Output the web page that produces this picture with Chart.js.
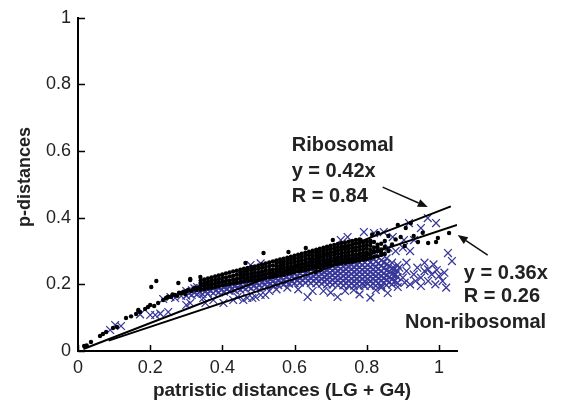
<!DOCTYPE html>
<html>
<head>
<meta charset="utf-8">
<script src="https://cdn.jsdelivr.net/npm/chart.js@4.4.1/dist/chart.umd.min.js"></script>
<style>
html,body{margin:0;padding:0;background:#fff;}
#wrap{width:563px;height:403px;position:relative;}
</style>
</head>
<body>
<div id="wrap"><canvas id="chart"></canvas></div>
<script>
// --- regression lines ---
const riboFit=[[0.015,0.006],[1.033,0.434]];
const nonRiboFit=[[0.085,0.031],[1.05,0.378]];

// --- ribosomal points: scattered ones ---
const riboScatter=[
  [0.017,0.015],[0.024,0.017],[0.036,0.027],[0.061,0.045],[0.069,0.051],[0.078,0.057],[0.097,0.069],[0.108,0.072],
  [0.133,0.099],[0.147,0.104],[0.161,0.111],[0.167,0.123],[0.172,0.117],[0.186,0.126],[0.194,0.132],[0.2,0.138],
  [0.203,0.192],[0.217,0.21],[0.211,0.135],[0.222,0.144],[0.236,0.153],[0.244,0.159],[0.25,0.163],[0.258,0.162],
  [0.262,0.17],[0.269,0.168],[0.275,0.166],[0.278,0.204],[0.28,0.175],[0.286,0.174],[0.292,0.178],[0.297,0.171],
  [0.3,0.18],[0.305,0.183],[0.311,0.213],[0.314,0.18],[0.319,0.186],[0.325,0.19],[0.328,0.183],[0.333,0.189],
  [0.311,0.216],[0.339,0.222],[0.464,0.264],[0.514,0.294],[0.583,0.297],[0.631,0.309],[0.658,0.237],[0.672,0.243],
  [0.706,0.333],[0.783,0.333],[0.815,0.35],[0.831,0.354],[0.81,0.325],[0.82,0.3],[0.83,0.31],[0.84,0.295],
  [0.85,0.33],[0.86,0.345],[0.86,0.3],[0.87,0.32],[0.88,0.335],[0.886,0.378],[0.894,0.342],[0.905,0.315],
  [0.908,0.369],[0.922,0.384],[0.93,0.345],[0.942,0.327],[0.955,0.355],[0.97,0.324],[0.992,0.327],[0.997,0.339],
  [1.028,0.354]
];

// --- ribosomal points: the dense band, one column per x ---
const riboBand=[
  [0.34,[.184,.194,.203,.212]],[0.35,[.186,.196,.205,.215]],[0.36,[.188,.198,.208,.218]],
  [0.37,[.190,.200,.211,.221]],[0.38,[.192,.202,.213,.224]],[0.39,[.194,.205,.216,.227]],
  [0.40,[.197,.208,.219,.230]],[0.41,[.199,.210,.221,.233]],[0.42,[.201,.212,.224,.236]],
  [0.43,[.203,.214,.226,.239]],[0.44,[.205,.216,.229,.241]],[0.45,[.207,.217,.227,.236,.244]],
  [0.46,[.209,.219,.229,.238,.247]],[0.47,[.210,.220,.231,.241,.249]],[0.48,[.212,.222,.233,.243,.252]],
  [0.49,[.213,.224,.235,.245,.254]],[0.50,[.215,.226,.236,.247,.257]],[0.51,[.217,.228,.239,.250,.260]],
  [0.52,[.219,.230,.241,.252,.263]],[0.53,[.221,.232,.243,.255,.266]],[0.54,[.223,.234,.245,.257,.269]],
  [0.55,[.225,.235,.245,.254,.264,.272]],[0.56,[.227,.237,.247,.256,.266,.275]],[0.57,[.229,.239,.249,.259,.268,.277]],
  [0.58,[.232,.241,.251,.261,.271,.280]],[0.59,[.234,.244,.254,.264,.274,.283]],[0.60,[.237,.247,.257,.267,.277,.286]],
  [0.61,[.239,.249,.259,.269,.279,.289]],[0.62,[.241,.251,.261,.272,.282,.292]],[0.63,[.243,.253,.264,.274,.285,.295]],
  [0.64,[.245,.256,.266,.277,.288,.298]],[0.65,[.248,.257,.267,.276,.285,.294,.301]],[0.66,[.250,.259,.269,.278,.287,.296,.304]],
  [0.67,[.252,.261,.271,.280,.289,.298,.307]],[0.68,[.254,.263,.273,.282,.292,.301,.310]],[0.69,[.257,.266,.275,.285,.294,.304,.313]],
  [0.70,[.259,.268,.277,.287,.296,.306,.316]],[0.71,[.260,.270,.279,.289,.298,.308,.318]],[0.72,[.262,.271,.281,.291,.301,.311,.321]],
  [0.73,[.263,.273,.283,.293,.303,.313,.324]],[0.74,[.265,.275,.285,.295,.305,.315,.326]],[0.75,[.266,.276,.287,.297,.307,.317,.328]],
  [0.76,[.268,.278,.288,.299,.309,.320,.330]],[0.77,[.270,.280,.290,.301,.311,.322,.333]],[0.78,[.272,.282,.292,.303,.313,.324,.335]],
  [0.79,[.274,.284,.294,.305,.315,.326]],[0.80,[.276,.286,.296,.307,.318,.330]],[0.81,[.279,.291,.303,.316,.331]],
  [0.82,[.282,.296,.311,.327]],[0.83,[.284,.300,.319]],[0.84,[.288,.305,.322]],[0.85,[.291,.312]]
];

// --- non-ribosomal points: scattered ones ---
const nonRiboScatter=[
  [0.089,0.063],[0.103,0.078],[0.119,0.075],[0.172,0.11],[0.2,0.108],[0.214,0.108],[0.228,0.112],[0.25,0.117],
  [0.236,0.156],[0.256,0.162],[0.269,0.159],[0.286,0.165],[0.3,0.138],[0.311,0.144],[0.347,0.159],[0.353,0.144],
  [0.375,0.153],[0.403,0.144],[0.43,0.153],[0.442,0.162],[0.458,0.153],[0.469,0.159],[0.483,0.159],[0.492,0.162],
  [0.506,0.168],[0.519,0.168],[0.53,0.18],[0.478,0.258],[0.506,0.263],
  [0.55,0.185],[0.58,0.19],[0.61,0.185],[0.636,0.162],[0.65,0.18],[0.68,0.18],[0.7,0.175],[0.719,0.162],
  [0.74,0.18],[0.764,0.183],[0.78,0.17],[0.792,0.198],[0.81,0.16],[0.825,0.183],[0.84,0.19],[0.858,0.174],[0.886,0.192],
  [0.728,0.333],[0.747,0.342],[0.792,0.357],[0.82,0.354],[0.847,0.357],[0.872,0.342],[0.86,0.31],[0.88,0.3],
  [0.9,0.31],[0.903,0.333],[0.917,0.384],[0.92,0.3],[0.931,0.333],[0.95,0.369],[0.969,0.399],[0.992,0.384],
  [1.025,0.294],[1.036,0.27],
  [0.88,0.23],[0.89,0.25],[0.9,0.22],[0.905,0.205],[0.91,0.24],[0.91,0.265],[0.92,0.2],[0.93,0.23],[0.935,0.21],
  [0.94,0.25],[0.95,0.22],[0.95,0.195],[0.96,0.24],[0.96,0.265],[0.97,0.21],[0.97,0.245],[0.98,0.23],[0.985,0.26],
  [0.99,0.2],[0.994,0.243],[1.0,0.225],[1.01,0.21],[1.015,0.235],[1.02,0.19]
];

// --- non-ribosomal points: the dense band under the black one ---
const nonRiboBand=[
  [0.300,[.166,.180]],[0.315,[.168,.182]],[0.330,[.170,.184,.192]],[0.345,[.171,.185,.196]],
  [0.360,[.173,.186,.198]],[0.375,[.174,.188,.200]],[0.390,[.176,.190,.203]],[0.405,[.178,.192,.205]],
  [0.420,[.180,.194,.208]],[0.435,[.182,.196,.210]],[0.450,[.184,.198,.212]],[0.465,[.186,.200,.214]],
  [0.480,[.188,.202,.216,.222]],[0.495,[.190,.204,.218,.226]],[0.510,[.192,.206,.220,.229]],[0.525,[.194,.208,.222,.231]],
  [0.540,[.196,.210,.224,.233]],[0.555,[.198,.212,.226,.236]],[0.570,[.200,.214,.228,.239]],[0.585,[.202,.216,.230,.242]],
  [0.600,[.204,.218,.232,.246]],[0.615,[.205,.219,.233,.247,.250]],[0.630,[.205,.219,.233,.247,.253]],
  [0.645,[.204,.218,.232,.246,.256]],[0.660,[.203,.217,.231,.245,.259]],[0.675,[.202,.216,.230,.244,.258,.262]],
  [0.690,[.200,.214,.228,.242,.256,.266]],[0.705,[.199,.213,.227,.241,.255,.268]],[0.720,[.198,.212,.226,.240,.254,.270]],
  [0.735,[.197,.211,.225,.239,.253,.267,.273]],[0.750,[.196,.210,.224,.238,.252,.266,.276]],
  [0.765,[.196,.210,.224,.238,.252,.266,.278]],[0.780,[.195,.209,.223,.237,.251,.265,.280]],
  [0.795,[.195,.209,.223,.237,.251,.265,.282]],[0.810,[.195,.209,.223,.237,.251,.265,.284]],
  [0.825,[.196,.210,.224,.238,.252,.268,.288]],[0.840,[.197,.211,.225,.239,.255,.272]],
  [0.855,[.198,.212,.226,.242,.260,.278]],[0.870,[.200,.215,.231,.248,.265]],[0.885,[.205,.222,.240,.258]]
];
// same band, the in-between columns
const nonRiboBand2=[
  [0.3075,[.173]],[0.3225,[.175,.188]],[0.3375,[.177,.189]],[0.3525,[.178,.191]],[0.3675,[.180,.193]],
  [0.3825,[.181,.195]],[0.3975,[.183,.197]],[0.4125,[.185,.199]],[0.4275,[.187,.201]],[0.4425,[.189,.203]],
  [0.4575,[.191,.205]],[0.4725,[.193,.207,.218]],[0.4875,[.195,.209,.221]],[0.5025,[.197,.211,.224]],
  [0.5175,[.199,.213,.226]],[0.5325,[.201,.215,.228]],[0.5475,[.203,.217,.230]],[0.5625,[.205,.219,.233]],
  [0.5775,[.207,.221,.236]],[0.5925,[.209,.223,.238]],[0.6075,[.211,.225,.240]],[0.6225,[.212,.226,.240,.251]],
  [0.6375,[.212,.226,.240,.253]],[0.6525,[.211,.225,.239,.254]],[0.6675,[.210,.224,.238,.252]],
  [0.6825,[.209,.223,.237,.251,.262]],[0.6975,[.207,.221,.235,.249,.263]],[0.7125,[.206,.220,.234,.248,.262]],
  [0.7275,[.205,.219,.233,.247,.261]],[0.7425,[.204,.218,.232,.246,.260,.271]],[0.7575,[.203,.217,.231,.245,.259,.272]],
  [0.7725,[.202,.216,.230,.244,.258,.273]],[0.7875,[.202,.216,.230,.244,.258,.274]],[0.8025,[.202,.216,.230,.244,.258,.276]],
  [0.8175,[.203,.217,.231,.245,.260,.278]],[0.8325,[.204,.218,.232,.247,.263]],[0.8475,[.205,.219,.233,.249,.266]],
  [0.8625,[.207,.222,.238,.255]],[0.8775,[.210,.228,.246]]
];

// labels on the plot
const riboLabel=["Ribosomal","y = 0.42x","R = 0.84"];
const nonRiboLabel=["y = 0.36x","R = 0.26","Non-ribosomal"];
const xTitle="patristic distances (LG + G4)";
const yTitle="p-distances";

// where the labels / arrows go (data units)
const notes=[
  {text:riboLabel[0],x:0.592,y:0.618,align:"left"},
  {text:riboLabel[1],x:0.592,y:0.540,align:"left"},
  {text:riboLabel[2],x:0.592,y:0.465,align:"left"},
  {text:nonRiboLabel[0],x:1.069,y:0.232,align:"left"},
  {text:nonRiboLabel[1],x:1.069,y:0.163,align:"left"},
  {text:nonRiboLabel[2],x:1.297,y:0.085,align:"right"}
];
const arrows=[
  {from:[0.844,0.492],to:[0.969,0.432]},
  {from:[1.135,0.288],to:[1.052,0.348]}
];

function pts(list){ return list.map(p=>({x:p[0],y:p[1]})); }
function cols(list){ return list.flatMap(c=>c[1].map(y=>({x:c[0],y:y}))); }

const textColor="#222";
Chart.defaults.font.family="'Liberation Sans', Arial, sans-serif";

// petites graduations vers l'intérieur
const innerTicks={
  id:"innerTicks",
  afterDraw(chart){
    const {ctx,scales:{x,y}}=chart;
    ctx.save();
    ctx.strokeStyle="#000";
    ctx.lineWidth=1.5;
    ctx.beginPath();
    x.ticks.forEach(t=>{
      const px=Math.round(x.getPixelForValue(t.value))+0.5;
      ctx.moveTo(px,x.top); ctx.lineTo(px,x.top-6);
    });
    y.ticks.forEach(t=>{
      const py=Math.round(y.getPixelForValue(t.value))+0.5;
      ctx.moveTo(y.right,py); ctx.lineTo(y.right+7,py);
    });
    ctx.stroke();
    ctx.restore();
  }
};

// texte + flèches + titres des axes
const annotate={
  id:"annotate",
  afterDraw(chart){
    const {ctx,scales:{x,y}}=chart;
    ctx.save();
    ctx.fillStyle=textColor;
    ctx.textBaseline="middle";
    ctx.font="bold 20px 'Liberation Sans', Arial, sans-serif";
    notes.forEach(n=>{
      ctx.textAlign=n.align;
      ctx.fillText(n.text,x.getPixelForValue(n.x),y.getPixelForValue(n.y));
    });
    // arrows
    ctx.strokeStyle="#111";
    ctx.fillStyle="#111";
    ctx.lineWidth=1.5;
    arrows.forEach(a=>{
      const x0=x.getPixelForValue(a.from[0]), y0=y.getPixelForValue(a.from[1]);
      const x1=x.getPixelForValue(a.to[0]), y1=y.getPixelForValue(a.to[1]);
      const ang=Math.atan2(y1-y0,x1-x0), hl=10, hw=4;
      const bx=x1-hl*Math.cos(ang), by=y1-hl*Math.sin(ang);
      ctx.beginPath(); ctx.moveTo(x0,y0); ctx.lineTo(bx,by); ctx.stroke();
      ctx.beginPath();
      ctx.moveTo(x1,y1);
      ctx.lineTo(bx+hw*Math.sin(ang),by-hw*Math.cos(ang));
      ctx.lineTo(bx-hw*Math.sin(ang),by+hw*Math.cos(ang));
      ctx.closePath(); ctx.fill();
    });
    // axis titles
    ctx.fillStyle=textColor;
    ctx.textAlign="center";
    ctx.font="bold 19px 'Liberation Sans', Arial, sans-serif";
    ctx.fillText(xTitle,282,391);
    ctx.translate(25,177);
    ctx.rotate(-Math.PI/2);
    ctx.font="bold 18px 'Liberation Sans', Arial, sans-serif";
    ctx.fillText(yTitle,0,0);
    ctx.restore();
  }
};

const axisCommon={
  grid:{display:false,drawTicks:false},
  border:{color:"#000",width:2},
  ticks:{stepSize:0.2,includeBounds:false,color:textColor,font:{size:18},
    callback:v=>String(Math.round(v*10)/10)}
};

new Chart(document.getElementById("chart"),{
  type:"scatter",
  data:{datasets:[
    {label:"fit ribo",data:pts(riboFit),showLine:true,borderColor:"#000",borderWidth:2,pointRadius:0,order:0},
    {label:"fit non-ribo",data:pts(nonRiboFit),showLine:true,borderColor:"#000",borderWidth:2,pointRadius:0,order:0},
    {label:"Ribosomal",data:pts(riboScatter).concat(cols(riboBand)),pointStyle:"circle",pointRadius:2.2,
      backgroundColor:"#000",borderWidth:0,order:1},
    {label:"Non-ribosomal",data:pts(nonRiboScatter).concat(cols(nonRiboBand),cols(nonRiboBand2)),pointStyle:"crossRot",pointRadius:5.5,
      borderColor:"#38389a",backgroundColor:"#38389a",borderWidth:1.3,order:2}
  ]},
  options:{
    responsive:true,
    maintainAspectRatio:false,
    animation:false,
    layout:{padding:{top:17,right:106,left:0,bottom:0}},
    plugins:{legend:{display:false},tooltip:{enabled:false}},
    scales:{
      x:{...axisCommon,min:0,max:1.05,ticks:{...axisCommon.ticks,padding:6},afterFit(s){s.height=52;}},
      y:{...axisCommon,min:0,max:1,ticks:{...axisCommon.ticks,padding:7},afterFit(s){s.width=78;}}
    }
  },
  plugins:[innerTicks,annotate]
});
</script>
</body>
</html>
